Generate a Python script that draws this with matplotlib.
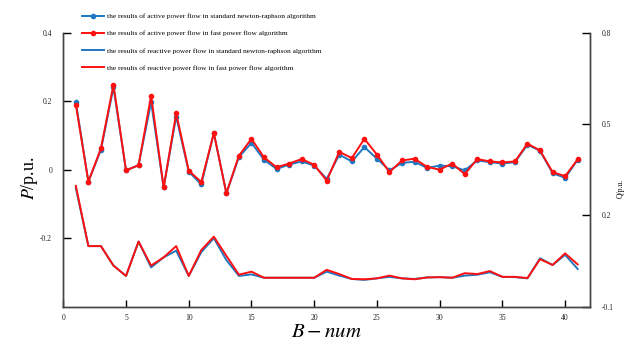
import matplotlib
matplotlib.use('Agg')
import matplotlib.pyplot as plt

plt.rcParams['font.family'] = ['Liberation Serif', 'DejaVu Serif']
plt.rcParams['mathtext.fontset'] = 'stix'

bus = list(range(1, 42))

# active power (left axis, p.u.)
p_nr = [0.197, -0.035, 0.058, 0.240, -0.002, 0.013, 0.197, -0.052, 0.155, -0.006,
        -0.043, 0.107, -0.069, 0.037, 0.078, 0.029, 0.002, 0.015, 0.024, 0.012,
        -0.027, 0.044, 0.024, 0.066, 0.032, -0.002, 0.020, 0.023, 0.005, 0.012,
        0.010, -0.002, 0.027, 0.022, 0.018, 0.022, 0.073, 0.055, -0.010, -0.024, 0.029]
p_fast = [0.190, -0.035, 0.062, 0.248, -0.002, 0.013, 0.216, -0.052, 0.165, -0.003,
          -0.036, 0.107, -0.069, 0.041, 0.090, 0.036, 0.007, 0.018, 0.031, 0.014,
          -0.032, 0.052, 0.034, 0.090, 0.044, -0.007, 0.027, 0.032, 0.008, 0.000,
          0.018, -0.013, 0.031, 0.024, 0.021, 0.024, 0.076, 0.056, -0.007, -0.019, 0.030]

# reactive power (right axis, p.u.)
q_nr = [0.290, 0.099, 0.099, 0.035, 0.001, 0.114, 0.029, 0.062, 0.084, 0.001,
        0.079, 0.125, 0.053, 0.001, 0.006, -0.005, -0.005, -0.005, -0.005, -0.005,
        0.015, 0.002, -0.009, -0.012, -0.007, -0.002, -0.007, -0.009, -0.004, -0.003,
        -0.005, 0.002, 0.005, 0.013, -0.002, -0.003, -0.007, 0.059, 0.037, 0.070, 0.024]
q_fast = [0.297, 0.099, 0.099, 0.035, 0.001, 0.114, 0.035, 0.062, 0.099, 0.001,
          0.086, 0.130, 0.067, 0.005, 0.015, -0.005, -0.005, -0.005, -0.005, -0.005,
          0.021, 0.007, -0.009, -0.010, -0.007, 0.002, -0.007, -0.010, -0.004, -0.003,
          -0.005, 0.010, 0.007, 0.017, -0.002, -0.002, -0.006, 0.056, 0.037, 0.075, 0.039]

labels = ['the results of active power flow in standard newton-raphson algorithm',
          'the results of active power flow in fast power flow algorithm',
          'the results of reactive power flow in standard newton-raphson algorithm',
          'the results of reactive power flow in fast power flow algorithm']

blue = '#1f78c1'
red = '#ff1010'
spine_c = '#444444'

fig = plt.figure(figsize=(6.36, 3.44), dpi=100)
ax = fig.add_axes([0.0995, 0.1085, 0.8285, 0.7965])
ax2 = ax.twinx()

l1, = ax.plot(bus, p_nr, color=blue, lw=1.4, marker='o', ms=3.0, label=labels[0])
l2, = ax.plot(bus, p_fast, color=red, lw=1.4, marker='o', ms=3.0, label=labels[1])
l3, = ax2.plot(bus, q_nr, color=blue, lw=1.4, label=labels[2])
l4, = ax2.plot(bus, q_fast, color=red, lw=1.4, label=labels[3])

ax.set_xlim(0, 42)
ax.set_ylim(-0.4, 0.4)
ax.set_xticks(range(0, 41, 5))
ax.set_yticks([-0.2, 0, 0.2, 0.4])
ax.set_yticklabels(['-0.2', '0', '0.2', '0.4'])
ax2.set_ylim(-0.1, 0.8)
ax2.set_yticks([-0.1, 0.2, 0.5, 0.8])
ax2.set_yticklabels(['-0.1', '0.2', '0.5', '0.8'])

for a in (ax, ax2):
    a.spines['top'].set_visible(False)
    for s in a.spines.values():
        s.set_color(spine_c)
        s.set_linewidth(1.0)
    a.tick_params(direction='in', length=6, width=1.0, color='black',
                  labelsize=5.5, pad=8, labelcolor='#222222')
ax.tick_params(axis='x', length=5, pad=5)

ax.set_xlabel(r'$B-num$', fontsize=15, labelpad=1)
ax.set_ylabel(r'$P$/p.u.', fontsize=13, labelpad=-2)
ax.yaxis.set_label_coords(-0.045, 0.47)
ax2.set_ylabel('Q/p.u.', fontsize=5.5)
ax2.yaxis.set_label_coords(1.05, 0.43)

fig.legend(handles=[l1, l2, l3, l4], loc='upper left', bbox_to_anchor=(0.129, 0.962),
           frameon=False, fontsize=5.3, handlelength=3.0, handletextpad=0.45,
           labelspacing=1.5, borderpad=0, borderaxespad=0)

plt.savefig('out.png', dpi=100)
